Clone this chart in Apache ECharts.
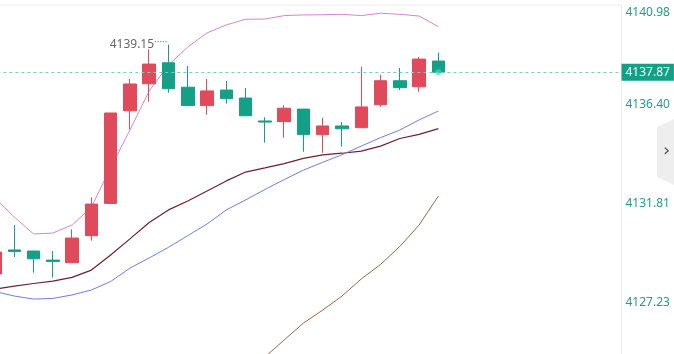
<!DOCTYPE html>
<html><head><meta charset="utf-8">
<script src="https://cdn.jsdelivr.net/npm/echarts@6/dist/echarts.min.js"></script>
<style>html,body{margin:0;padding:0;background:#fff;overflow:hidden}#c{width:674px;height:354px}</style>
</head><body><div id="c"></div>
<script>
// categories (33 slots, 24 filled with candles, the rest empty space on the right)
const categories = ['1','2','3','4','5','6','7','8','9','10','11','12','13','14','15','16','17','18','19','20','21','22','23','24','25','26','27','28','29','30','31','32','33'];

// candle values
const opens  = [4128.55,4129.66,4129.61,4129.19,4129.07,4130.32,4131.81,4136.09,4137.34,4138.31,4137.18,4136.33,4137.05,4136.68,4135.62,4135.59,4136.17,4134.99,4135.39,4135.31,4136.37,4137.48,4137.20,4138.39];
const closes = [4129.56,4129.59,4129.25,4129.13,4130.21,4131.78,4135.99,4137.33,4138.25,4137.11,4136.33,4137.01,4136.65,4135.86,4135.57,4136.21,4134.99,4135.39,4135.26,4136.27,4137.48,4137.16,4138.48,4137.87];
const lows   = [4128.36,4129.33,4128.61,4128.38,4129.07,4130.09,4131.81,4135.23,4136.51,4136.93,4136.33,4135.91,4136.42,4135.86,4134.62,4134.85,4134.20,4134.15,4134.43,4135.31,4136.28,4137.05,4136.97,4137.87];
const highs  = [4129.75,4130.81,4129.61,4129.61,4130.61,4132.09,4135.99,4137.56,4138.93,4139.15,4138.16,4137.56,4137.47,4137.14,4135.79,4136.34,4136.17,4135.77,4135.57,4138.13,4137.76,4138.07,4138.58,4138.78];

// indicator lines
const upperBand = [4132.06,4131.18,4130.40,4130.44,4130.81,4131.64,4133.45,4135.20,4137.01,4138.21,4139.04,4139.69,4140.06,4140.32,4140.33,4140.49,4140.52,4140.53,4140.55,4140.49,4140.60,4140.55,4140.47,4139.98];
const midBand   = [4127.85,4127.99,4128.11,4128.22,4128.39,4128.73,4129.43,4130.17,4130.93,4131.51,4131.92,4132.38,4132.85,4133.26,4133.45,4133.65,4133.89,4134.05,4134.13,4134.23,4134.46,4134.81,4135.00,4135.27];
const lowerBand = [null,null,null,null,null,null,null,null,null,null,null,null,null,4124.02,4124.71,4125.50,4126.28,4126.88,4127.53,4128.32,4128.99,4129.82,4130.81,4132.15];
const maLine    = [4127.74,4127.53,4127.39,4127.42,4127.58,4127.81,4128.20,4128.82,4129.29,4129.78,4130.32,4130.86,4131.51,4131.97,4132.45,4132.91,4133.35,4133.71,4134.06,4134.46,4134.85,4135.20,4135.67,4136.08];

// tick labels on the price axis
const yTicks = [4127.23, 4131.81, 4136.40, 4140.98];

const interval = (yTicks[yTicks.length-1] - yTicks[0]) / (yTicks.length - 1);
const yMin = yTicks[0] - interval;
const yMax = yTicks[yTicks.length-1];

const candleData = opens.map((o, i) => [o, closes[i], lows[i], highs[i]]);
let maxIdx = 0;
highs.forEach((h, i) => { if (h > highs[maxIdx]) maxIdx = i; });
const last = closes.length - 1;

const chart = echarts.init(document.getElementById('c'), null, {renderer: 'canvas'});
chart.setOption({
  animation: false,
  backgroundColor: '#ffffff',
  textStyle: {fontFamily: 'Noto Sans, sans-serif'},
  grid: {left: -14.65, right: 52.5, top: 5, bottom: -47.7, outerBoundsMode: 'none', containLabel: false,
    show: true, borderColor: '#ececec', borderWidth: 1},
  xAxis: {
    type: 'category', data: categories, boundaryGap: true,
    axisLine: {show: false}, axisTick: {show: false}, axisLabel: {show: false}, splitLine: {show: false}
  },
  yAxis: {
    type: 'value', position: 'right', min: yMin, max: yMax, interval: interval, scale: true,
    axisLine: {show: false}, axisTick: {show: false}, splitLine: {show: false},
    axisLabel: {color: '#1e9e87', fontSize: 12, margin: 4,
      formatter: v => Math.abs(v - yMax) < 1e-6 ? '{top|' + v.toFixed(2) + '}' : v.toFixed(2),
      rich: {top: {color: '#1e9e87', fontSize: 12, padding: [16, 0, 0, 0]}}}
  },
  series: [
    {
      type: 'line', data: upperBand, showSymbol: false, symbol: 'none', z: 3,
      lineStyle: {color: '#d684d3', width: 1}
    },
    {
      type: 'line', data: midBand, showSymbol: false, symbol: 'none', z: 3,
      lineStyle: {color: '#6b2133', width: 1.2}
    },
    {
      type: 'line', data: lowerBand, showSymbol: false, symbol: 'none', z: 3,
      lineStyle: {color: '#a0663f', width: 1}
    },
    {
      type: 'line', data: maLine, showSymbol: false, symbol: 'none', z: 3,
      lineStyle: {color: '#6c7fe0', width: 1}
    },
    {
      type: 'candlestick', data: candleData, barWidth: 13, z: 4,
      itemStyle: {color: '#e04a5a', color0: '#14a086', borderColor: '#e04a5a', borderColor0: '#14a086', borderWidth: 1},
      markLine: {
        silent: true, symbol: ['none', 'none'],
        lineStyle: {color: '#7ccfc0', type: [3, 3], width: 1},
        label: {position: 'end', distance: 0, color: '#ffffff', backgroundColor: '#14a086',
          padding: [3, 4, 2, 4], fontSize: 12, formatter: p => p.value.toFixed(2)},
        data: [{yAxis: closes[last]}]
      },
      markPoint: {
        silent: true, symbol: 'circle', symbolSize: 0,
        itemStyle: {color: 'rgba(0,0,0,0)'},
        label: {show: true, position: 'left', distance: 1,
          formatter: p => '{v|' + p.value.toFixed(2) + '}{d|·····}',
          rich: {v: {color: '#666666', fontSize: 12}, d: {color: '#888888', fontSize: 10, padding: [0, 0, 4, 0]}}},
        data: [{coord: [maxIdx, highs[maxIdx]], value: highs[maxIdx]}]
      }
    },
    {
      type: 'scatter', data: [[last, closes[last]]], symbolSize: 6, z: 5, silent: true,
      itemStyle: {color: 'rgba(90,205,190,0.7)', shadowBlur: 5, shadowColor: 'rgba(60,200,180,0.9)'}
    }
  ],
  graphic: [
    {type: 'polygon', right: 0, top: 119, z: 10,
      shape: {points: [[0, 8], [17, 0], [17, 66], [0, 58]]},
      style: {fill: '#eeeeee'}},
    {type: 'text', left: 663, top: 142, z: 11,
      style: {text: '›', fill: '#555555', font: '18px DejaVu Sans'}}
  ]
});
</script>
</body></html>
